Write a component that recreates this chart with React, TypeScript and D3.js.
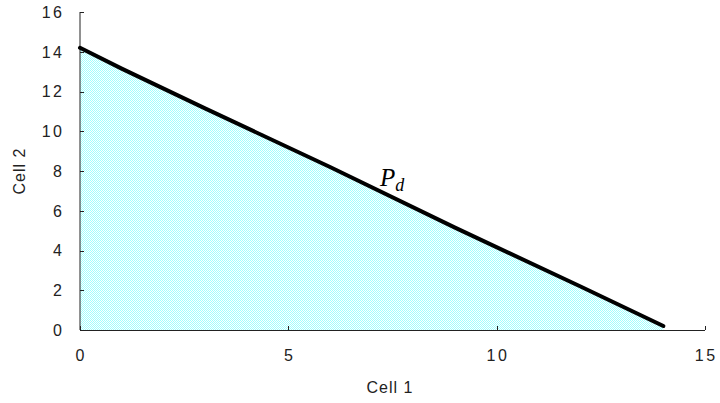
import React from "react";
import * as d3 from "d3";

const lineX = [0, 1, 3, 6, 9, 12, 14];
const lineY = [14.2, 13.15, 11.15, 8.2, 5.15, 2.2, 0.2];
const xTicks = [0, 5, 10, 15];
const yTicks = [0, 2, 4, 6, 8, 10, 12, 14, 16];

export default function App() {
  const W = 720, H = 403;
  const x = d3.scaleLinear().domain([0, 15]).range([80, 705]);
  const y = d3.scaleLinear().domain([0, 16]).range([330, 12]);
  const pts: [number, number][] = lineX.map((v, i) => [v, lineY[i]]);
  const line = d3.line<[number, number]>().x(d => x(d[0])).y(d => y(d[1]));
  const area = d3.area<[number, number]>().x(d => x(d[0])).y0(y(0)).y1(d => y(d[1]));
  const font = "'Liberation Sans', Arial, sans-serif";
  const ls = 2.5;
  return (
    <svg width={W} height={H} style={{ position: "absolute", left: 0, top: 0 }}>
      <defs>
        <pattern id="chk" width={2} height={2} patternUnits="userSpaceOnUse">
          <rect width={2} height={2} fill="#ffffff" />
          <rect x={0} y={0} width={1} height={1} fill="#a0ffff" />
          <rect x={1} y={1} width={1} height={1} fill="#a0ffff" />
        </pattern>
      </defs>
      <rect width={W} height={H} fill="#fff" />
      <path d={area(pts) || ""} fill="url(#chk)" />
      <g stroke="#222" strokeWidth={1} fill="none">
        <line x1={x(0)} x2={x(0)} y1={y(16)} y2={y(0)} />
        <line x1={x(0)} x2={x(15)} y1={y(0) + 0.5} y2={y(0) + 0.5} />
        {yTicks.map(t => (
          <line key={"yt" + t} x1={x(0)} x2={x(0) + 4} y1={Math.round(y(t)) + 0.5} y2={Math.round(y(t)) + 0.5} />
        ))}
        {xTicks.map(t => (
          <line key={"xt" + t} x1={Math.round(x(t)) + 0.5} x2={Math.round(x(t)) + 0.5} y1={y(0)} y2={y(0) - 4} />
        ))}
      </g>
      <path d={line(pts) || ""} fill="none" stroke="#000" strokeWidth={4} strokeLinecap="round" strokeLinejoin="round" />
      <g fontFamily={font} fontSize={16} fill="#222">
        {yTicks.map(t => (
          <text key={"yl" + t} x={62 + ls} y={y(t)} dy="0.36em" textAnchor="end" letterSpacing={ls}>{t}</text>
        ))}
        {xTicks.map(t => (
          <text key={"xl" + t} x={x(t) + ls / 2} y={361} textAnchor="middle" letterSpacing={ls}>{t}</text>
        ))}
        <text x={390} y={393} textAnchor="middle" fontSize={16} letterSpacing={1}>Cell 1</text>
        <text transform={`translate(25,171) rotate(-90)`} textAnchor="middle" fontSize={16} letterSpacing={1}>Cell 2</text>
      </g>
      <text x={380} y={186} fontFamily="'Liberation Serif', 'Times New Roman', serif" fontStyle="italic" fontSize={25} fill="#000">
        P<tspan fontSize={18} dy={5}>d</tspan>
      </text>
    </svg>
  );
}
